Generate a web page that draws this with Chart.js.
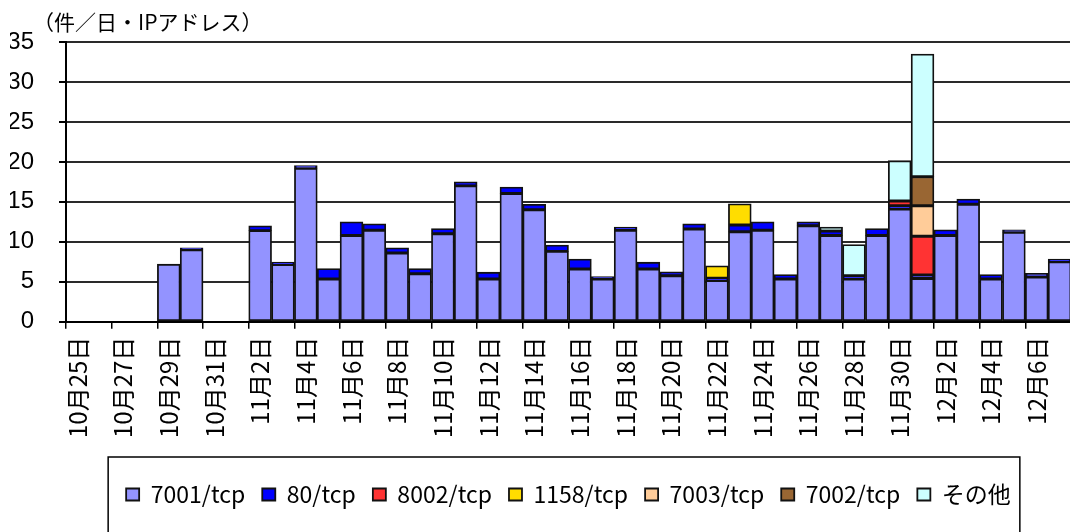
<!DOCTYPE html>
<html lang="ja">
<head>
<meta charset="utf-8">
<script src="https://cdn.jsdelivr.net/npm/chart.js@4.4.1/dist/chart.umd.min.js"></script>
<style>
  html, body { margin: 0; padding: 0; background: #fff; overflow: hidden; }
  canvas { display: block; }
</style>
</head>
<body>
<canvas id="port-chart" width="1072" height="580"></canvas>
<script>
const days = [
  '10月25日', '10月26日', '10月27日', '10月28日', '10月29日', '10月30日', '10月31日',
  '11月1日', '11月2日', '11月3日', '11月4日', '11月5日', '11月6日', '11月7日', '11月8日',
  '11月9日', '11月10日', '11月11日', '11月12日', '11月13日', '11月14日', '11月15日',
  '11月16日', '11月17日', '11月18日', '11月19日', '11月20日', '11月21日', '11月22日',
  '11月23日', '11月24日', '11月25日', '11月26日', '11月27日', '11月28日', '11月29日',
  '11月30日', '12月1日', '12月2日', '12月3日', '12月4日', '12月5日', '12月6日', '12月7日'
];

// 件/日・IPアドレス
const port7001 = [0, 0, 0, 0, 7.2, 9.0, 0, 0, 11.4, 7.15, 19.2, 5.35, 10.8, 11.45, 8.6,
  6.0, 11.0, 17.0, 5.35, 16.05, 14.0, 8.8, 6.6, 5.35, 11.45, 6.6, 5.75, 11.6, 5.15,
  11.25, 11.45, 5.35, 12.0, 10.8, 5.35, 10.8, 14.1, 5.4, 10.8, 14.7, 5.35, 11.2, 5.6, 7.5];
const port80 = [0, 0, 0, 0, 0, 0.25, 0, 0, 0.6, 0.3, 0.35, 1.3, 1.7, 0.8, 0.65,
  0.65, 0.65, 0.5, 0.85, 0.8, 0.7, 0.8, 1.25, 0.3, 0.4, 0.85, 0.5, 0.65, 0.3,
  0.85, 1.05, 0.55, 0.5, 0.55, 0.4, 0.85, 0.4, 0.45, 0.7, 0.65, 0.55, 0.3, 0.45, 0.35];
const port8002 = [0, 0, 0, 0, 0, 0, 0, 0, 0, 0, 0, 0, 0, 0, 0,
  0, 0, 0, 0, 0, 0, 0, 0, 0, 0, 0, 0, 0, 0,
  0, 0, 0, 0, 0, 0, 0, 0.6, 4.85, 0, 0, 0, 0, 0, 0];
const port1158 = [0, 0, 0, 0, 0, 0, 0, 0, 0, 0, 0, 0, 0, 0, 0,
  0, 0, 0, 0, 0, 0, 0, 0, 0, 0, 0, 0, 0, 1.55,
  2.65, 0, 0, 0, 0, 0, 0, 0, 0, 0, 0, 0, 0, 0, 0];
const port7003 = [0, 0, 0, 0, 0, 0, 0, 0, 0, 0, 0, 0, 0, 0, 0,
  0, 0, 0, 0, 0, 0, 0, 0, 0, 0, 0, 0, 0, 0,
  0, 0, 0, 0, 0, 0, 0, 0, 3.8, 0, 0, 0, 0, 0, 0];
const port7002 = [0, 0, 0, 0, 0, 0, 0, 0, 0, 0, 0, 0, 0, 0, 0,
  0, 0, 0, 0, 0, 0, 0, 0, 0, 0, 0, 0, 0, 0,
  0, 0, 0, 0, 0, 0, 0, 0, 3.65, 0, 0, 0, 0, 0, 0];
const others = [0, 0, 0, 0, 0, 0, 0, 0, 0, 0, 0, 0, 0, 0, 0,
  0, 0, 0, 0, 0, 0, 0, 0, 0, 0, 0, 0, 0, 0,
  0, 0, 0, 0, 0.5, 3.9, 0, 5.05, 15.35, 0, 0, 0, 0, 0, 0];

const seriesNames = ['7001/tcp', '80/tcp', '8002/tcp', '1158/tcp', '7003/tcp', '7002/tcp', 'その他'];
const seriesValues = [port7001, port80, port8002, port1158, port7003, port7002, others];
const seriesColors = ['#9393FF', '#0000FF', '#FF3333', '#FFDD00', '#FFCC99', '#996633', '#CCFFFF'];

const yTicks = [0, 5, 10, 15, 20, 25, 30, 35];
const unitLabel = '（件／日・IPアドレス）';

const jpFont = "'Noto Sans CJK JP', 'Noto Sans', sans-serif";
const numFont = "'Liberation Sans Narrow', 'Liberation Sans', Arial, sans-serif";

// unit text above the y axis
const unitTitle = {
  id: 'unitTitle',
  afterDraw(chart) {
    const c = chart.ctx;
    c.save();
    c.font = '21px ' + jpFont;
    c.fillStyle = '#000';
    c.textBaseline = 'middle';
    c.fillText(unitLabel, chart.chartArea.left - 33, 22);
    c.restore();
  }
};

// frame round the legend
const legendFrame = {
  id: 'legendFrame',
  afterDraw(chart) {
    const boxes = chart.legend.legendHitBoxes;
    if (!boxes || !boxes.length) return;
    const first = boxes[0];
    const last = boxes[boxes.length - 1];
    const c = chart.ctx;
    c.save();
    c.strokeStyle = '#000';
    c.lineWidth = 1.5;
    const x0 = first.left - 18;
    const x1 = last.left + last.width + 9;
    c.strokeRect(x0, first.top - 26, x1 - x0, 140);
    c.restore();
  }
};

const datasets = seriesNames.map((name, i) => ({
  label: name,
  data: seriesValues[i].map(v => v === 0 ? null : v),
  backgroundColor: seriesColors[i],
  borderColor: '#111',
  borderWidth: 1.8,
  borderSkipped: false,
  barPercentage: 1,
  categoryPercentage: 1
}));

const ctx = document.getElementById('port-chart').getContext('2d');
const chart = new Chart(ctx, {
  type: 'bar',
  data: { labels: days, datasets: datasets },
  options: {
    responsive: false,
    animation: false,
    layout: { padding: { left: 10, top: 42, right: 1, bottom: 64 } },
    scales: {
      x: {
        stacked: true,
        offset: true,
        grid: {
          drawOnChartArea: false,
          drawTicks: true,
          tickLength: 7,
          lineWidth: 1.5,
          tickColor: (c) => (c.index % 2 === 0 ? '#000' : 'rgba(0,0,0,0)'),
          color: '#000'
        },
        border: { display: true, color: '#000', width: 2 },
        ticks: {
          autoSkip: false,
          maxRotation: 90,
          minRotation: 90,
          padding: 8,
          color: '#000',
          font: { family: jpFont, size: 24 },
          callback: (val, i) => (i % 2 === 0 ? days[i] : '')
        },
        afterFit: (scale) => {
          scale.height += 20;
          scale.paddingLeft = 0;
          scale.paddingRight = 0;
        }
      },
      y: {
        stacked: true,
        min: yTicks[0],
        max: yTicks[yTicks.length - 1],
        ticks: {
          stepSize: 5,
          padding: 25,
          color: '#000',
          font: { family: numFont, size: 24 }
        },
        grid: {
          color: '#2a2a2a',
          lineWidth: 2,
          tickLength: 7,
          tickColor: '#000'
        },
        border: { display: true, color: '#000', width: 2 },
        afterFit: (scale) => { scale.width = 56; }
      }
    },
    plugins: {
      legend: {
        position: 'bottom',
        fullSize: false,
        labels: {
          boxWidth: 13,
          boxHeight: 12,
          padding: 17,
          color: '#000',
          font: { family: jpFont, size: 23 }
        }
      },
      tooltip: { enabled: false }
    }
  },
  plugins: [unitTitle, legendFrame]
});
</script>
</body>
</html>
